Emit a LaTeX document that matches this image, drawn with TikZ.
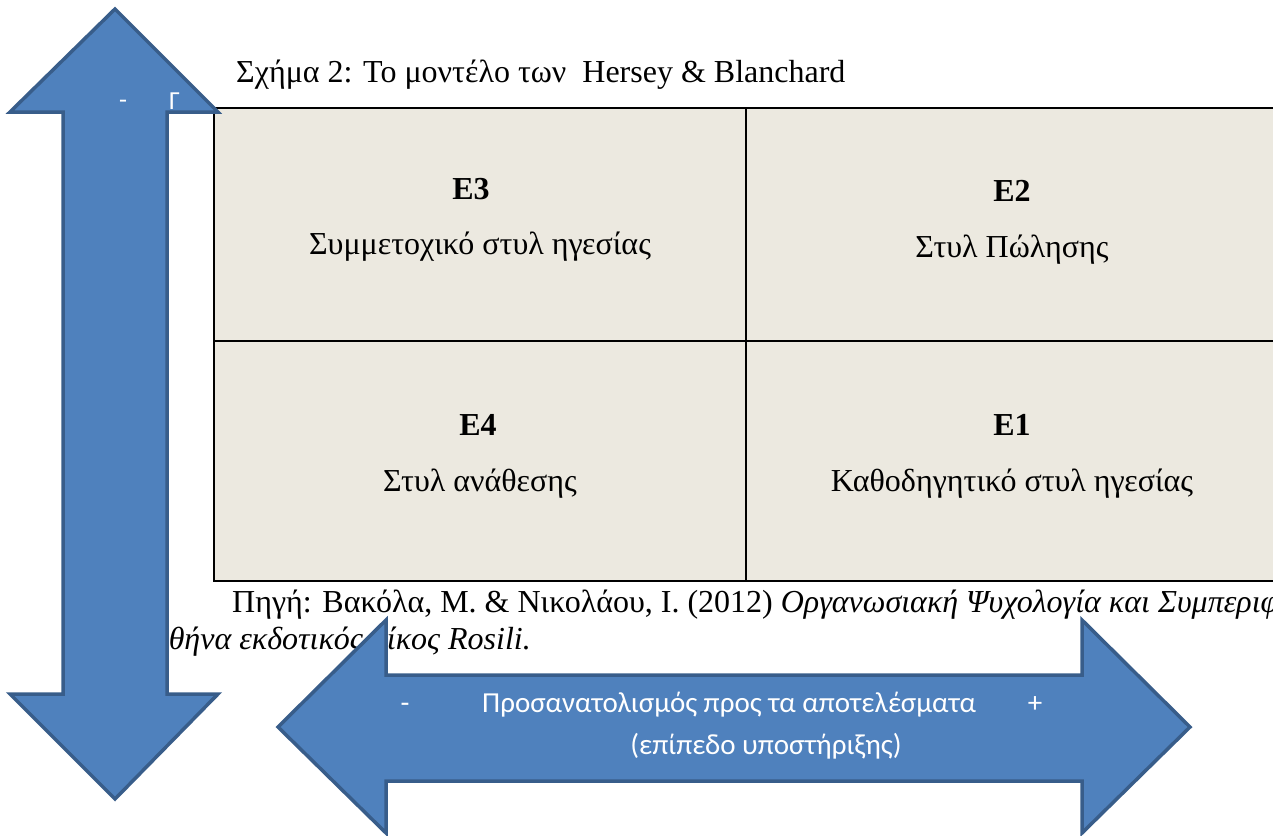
\documentclass[tikz,border=0pt]{standalone}
\usepackage{fontspec}
\setmainfont{Liberation Serif}
\newfontfamily\calib{Carlito}
\definecolor{arrowfill}{HTML}{4F81BD}
\definecolor{arrowline}{HTML}{385D8A}
\definecolor{cellfill}{HTML}{ECE9E0}
\begin{document}
\begin{tikzpicture}[x=1pt,y=-1pt,
  bigarrow/.style={fill=arrowfill,draw=arrowline,line width=3.5pt,line join=miter},
  cellframe/.style={draw=black,line width=2pt,fill=cellfill},
  serif/.style={font=\fontsize{32}{38}\selectfont,inner sep=0pt},
  serifbold/.style={font=\fontsize{32}{38}\selectfont\bfseries,inner sep=0pt},
  arrowtext/.style={font=\calib\fontsize{29}{34}\selectfont,text=white,inner sep=0pt},
  smallwhite/.style={font=\calib\fontsize{26}{30}\selectfont,text=white,inner sep=0pt}]
\useasboundingbox (0,0) rectangle (1273,835);
\clip (0,0) rectangle (1273,835);

% title
\node[serif,anchor=base west] (title) at (236,82) {Σχήμα 2: Το μοντέλο των\ \ Hersey \& Blanchard};

% the four-cell grid
\draw[cellframe] (214,108) rectangle (1278,581);
\draw[line width=2pt] (746,108) -- (746,581);
\draw[line width=2pt] (214,341) -- (1278,341);

\node[serifbold,anchor=base] (e3) at (471,199) {Ε3};
\node[serif,anchor=base] (e3t) at (480,254) {Συμμετοχικό στυλ ηγεσίας};
\node[serifbold,anchor=base] (e2) at (1012,201) {Ε2};
\node[serif,anchor=base] (e2t) at (1012,257) {Στυλ Πώλησης};
\node[serifbold,anchor=base] (e4) at (478,435) {Ε4};
\node[serif,anchor=base] (e4t) at (480,491) {Στυλ ανάθεσης};
\node[serifbold,anchor=base] (e1) at (1012,435) {Ε1};
\node[serif,anchor=base] (e1t) at (1012,491) {Καθοδηγητικό στυλ ηγεσίας};

% source line
\node[serif,anchor=base west] (src1) at (232,612) {Πηγή: Βακόλα, Μ. \& Νικολάου, Ι. (2012) \textit{Οργανωσιακή Ψυχολογία και Συμπεριφορά.}};
\node[serif,anchor=base west] (src2) at (149,649) {\textit{Αθήνα εκδοτικός οίκος Rosili.}};

% vertical double arrow
\draw[bigarrow] (115,9) -- (218,112) -- (167,112) -- (167,694) -- (218,694)
  -- (115,799) -- (10,694) -- (63,694) -- (63,112) -- (10,112) -- cycle;
\node[smallwhite,anchor=base] (vminus) at (123,108) {-};
\node[smallwhite,anchor=base west] (vgamma) at (169,109) {Γ};

% horizontal double arrow
\draw[bigarrow] (278,727) -- (386,620) -- (386,675) -- (1082,675) -- (1082,620)
  -- (1190,727) -- (1082,833) -- (1082,781) -- (386,781) -- (386,833) -- cycle;
\node[arrowtext,anchor=base] (hminus) at (405,712) {-};
\node[arrowtext,anchor=base west] (htext) at (482,712) {Προσανατολισμός προς τα αποτελέσματα};
\node[arrowtext,anchor=base] (hplus) at (1035,712) {+};
\node[arrowtext,anchor=base] (hsub) at (766,754) {(επίπεδο υποστήριξης)};
\end{tikzpicture}
\end{document}
